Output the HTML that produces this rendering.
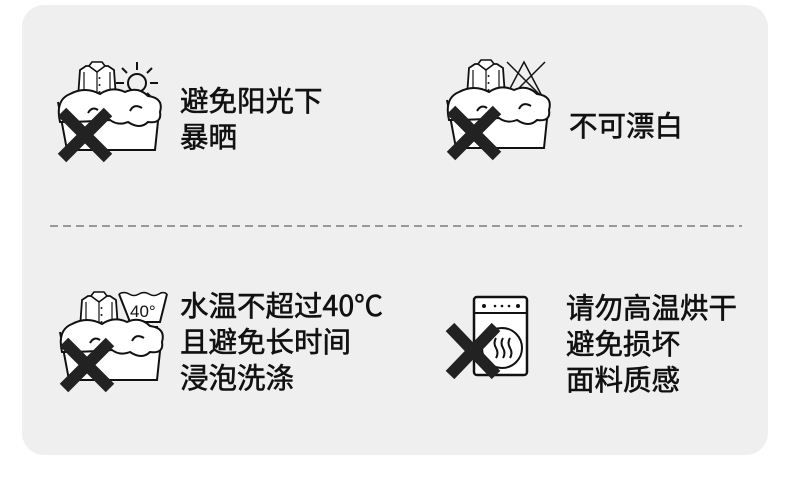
<!DOCTYPE html>
<html><head><meta charset="utf-8"><style>
html,body{margin:0;padding:0;background:#fff;}
body{width:790px;height:489px;position:relative;overflow:hidden;font-family:"Noto Sans CJK SC","Liberation Sans",sans-serif;}
.card{position:absolute;left:22px;top:5px;width:746px;height:450px;background:#efefef;border-radius:22px;}
.t{position:absolute;font-size:28.5px;line-height:36px;color:#111;font-weight:normal;-webkit-text-stroke:0.6px #111;white-space:nowrap;}
svg{position:absolute;left:0;top:0;}
</style></head><body>
<div class="card"></div>
<svg width="790" height="489" viewBox="0 0 790 489">
<defs>
<g id="shirt">
  <path d="M86 66 L80 70 L78 98 L116 98 L114 70 L108 66 Z" fill="#fff" stroke="#111" stroke-width="1.8"/>
  <path d="M84 72 L84 98 M110 72 L110 98" stroke="#111" stroke-width="1.2"/>
  <path d="M89 66 L97 72 L105 66 L102 62 L92 62 Z" fill="#fff" stroke="#111" stroke-width="1.6"/>
  <path d="M97 72 V98" stroke="#111" stroke-width="1.2"/>
  <circle cx="99.5" cy="78" r="1" fill="#111"/><circle cx="99.5" cy="85" r="1" fill="#111"/><circle cx="99.5" cy="92" r="1" fill="#111"/>
</g>
<g id="basin">
  <path d="M58 102 L67 150 L155 150 L160 102" fill="#fff" stroke="#111" stroke-width="2"/>
  <use href="#shirt"/>
  <path d="M60 122 Q55 100 70 94 Q85 86 100 94 Q112 86 125 92 Q138 86 148 96 Q164 98 160 112 Q162 124 148 122 Q140 130 128 122 Q118 126 110 120 Q85 122 60 122 Z" fill="#fff" stroke="#111" stroke-width="2"/>
  <path d="M88 113 Q92 106 98 110" fill="none" stroke="#111" stroke-width="2"/>
  <path d="M130 111 Q134 103 142 108" fill="none" stroke="#111" stroke-width="2"/>
</g>
<g id="x"><path d="M62 112 L108 158 M108 112 L62 158" stroke="#222" stroke-width="12"/></g>
</defs>
<circle cx="137" cy="83" r="9" fill="none" stroke="#111" stroke-width="2"/>
<path d="M137 62v8 M137 96v8 M116 83h8 M150 83h8 M122 68l5 5 M147 93l5 5 M152 68l-5 5 M127 93l-5 5" stroke="#111" stroke-width="2"/>
<use href="#basin"/>
<use href="#x"/>
<g transform="translate(389,-2)">
<path d="M116 100 L135 64 L154 100 Z M118 64 L156 102 M156 64 L118 102" fill="none" stroke="#111" stroke-width="1.5"/>
<use href="#basin"/>
<use href="#x"/>
</g>
<g transform="translate(2,230)">
<path d="M117 64 L128 92 L158 92 L165 64" fill="#fff" stroke="#111" stroke-width="2"/>
<path d="M117 64 q5 -3 10 0 q5 3 10 0 q5 -3 10 0 q5 3 10 0 q4 -3 8 0" fill="none" stroke="#111" stroke-width="1.5"/>
<text x="128" y="87" font-size="17" font-family="Liberation Sans,sans-serif" fill="#111">40°</text>
<path d="M128 97 H156" stroke="#111" stroke-width="2"/>
<use href="#basin"/>
<use href="#x"/>
</g>
<rect x="474" y="297" width="53" height="78" rx="3" fill="#fff" stroke="#111" stroke-width="2.5"/>
<path d="M474 313 H527" stroke="#111" stroke-width="2"/>
<circle cx="484" cy="306" r="2" fill="#111"/><circle cx="495" cy="306" r="1.3" fill="#111"/><circle cx="502" cy="306" r="1.3" fill="#111"/><circle cx="509" cy="306" r="1.3" fill="#111"/><circle cx="518" cy="306" r="2" fill="#111"/>
<circle cx="502" cy="348" r="20" fill="none" stroke="#111" stroke-width="2"/>
<path d="M496 338 q-3 5 0 10 q3 5 0 10 M503 338 q-3 5 0 10 q3 5 0 10 M510 338 q-3 5 0 10 q3 5 0 10" fill="none" stroke="#111" stroke-width="2"/>
<path d="M450 327 L496 375 M496 327 L450 375" stroke="#222" stroke-width="12"/>
<path d="M50 226 H742" stroke="#999" stroke-width="2" stroke-dasharray="8 5"/>
</svg>
<div class="t" style="left:180px;top:82px;">避免阳光下<br>暴晒</div>
<div class="t" style="left:569px;top:107px;">不可漂白</div>
<div class="t" style="left:180px;top:287px;">水温不超过40°C<br>且避免长时间<br>浸泡洗涤</div>
<div class="t" style="left:566px;top:289px;">请勿高温烘干<br>避免损坏<br>面料质感</div>
</body></html>
